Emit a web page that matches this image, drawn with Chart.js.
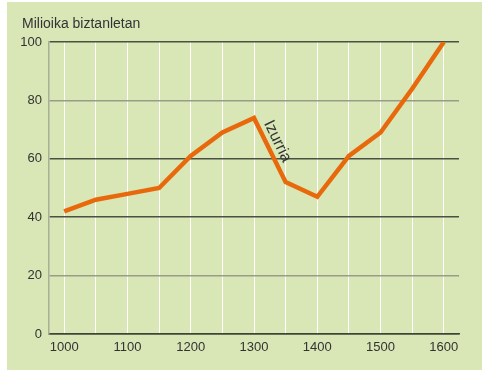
<!DOCTYPE html>
<html>
<head>
<meta charset="utf-8">
<script src="https://cdn.jsdelivr.net/npm/chart.js@4"></script>
<style>
  body { margin: 0; background: #fff; }
  #wrap { position: absolute; left: 7px; top: 2px; width: 475px; height: 368px; background: #d9e6b6; }
</style>
</head>
<body>
<div id="wrap"><canvas id="chart"></canvas></div>
<script>
var years = [1000, 1050, 1100, 1150, 1200, 1250, 1300, 1350, 1400, 1450, 1500, 1550, 1600];
var population = [42, 46, 48, 50, 61, 69, 74, 52, 47, 61, 69, 84, 100];
var yTicks = [0, 20, 40, 60, 80, 100];
var title = "Milioika biztanletan";
var plagueLabel = "Izurria";

var font = { family: "'Liberation Sans', Arial, sans-serif", size: 13 };

var textPlugin = {
  id: "texts",
  afterDatasetsDraw: function(chart) {
    var ctx = chart.ctx;
    ctx.save();
    ctx.fillStyle = "#333";
    ctx.font = "14px 'Liberation Sans', Arial, sans-serif";
    ctx.textBaseline = "middle";
    ctx.fillText(title, 15, 22);
    var x = chart.scales.x.getPixelForValue(1337);
    var y = chart.scales.y.getPixelForValue(66);
    ctx.translate(x, y);
    ctx.rotate(64 * Math.PI / 180);
    ctx.textAlign = "center";
    ctx.font = "16px 'Liberation Sans', Arial, sans-serif";
    ctx.fillText(plagueLabel, 0, 0);
    ctx.restore();
  }
};

var ctx = document.getElementById("chart").getContext("2d");
var chart = new Chart(ctx, {
  type: "line",
  data: {
    datasets: [{
      data: years.map(function(y, i) { return { x: y, y: population[i] }; }),
      borderColor: "#e8690c",
      borderWidth: 4.5,
      pointRadius: 0,
      tension: 0,
      fill: false
    }]
  },
  options: {
    responsive: true,
    maintainAspectRatio: false,
    animation: false,
    layout: { padding: { left: 0, top: 40, right: 23, bottom: 0 } },
    plugins: { legend: { display: false }, tooltip: { enabled: false } },
    scales: {
      x: {
        type: "linear",
        min: 976,
        max: 1624,
        afterBuildTicks: function(scale) {
          scale.ticks = years.map(function(v) { return { value: v }; });
        },
        afterFit: function(scale) { scale.height = 36; },
        grid: {
          drawTicks: false,
          color: function(c) { return (c.tick && c.tick.value >= 1000) ? "#ffffff" : "rgba(0,0,0,0)"; },
          lineWidth: 1
        },
        border: { color: "#3e4436", width: 1.5 },
        ticks: {
          autoSkip: false,
          maxRotation: 0,
          padding: 6,
          color: "#333",
          font: font,
          callback: function(v) { return v % 100 === 0 ? String(v) : ""; }
        }
      },
      y: {
        min: 0,
        max: 100,
        afterBuildTicks: function(scale) {
          scale.ticks = yTicks.map(function(v) { return { value: v }; });
        },
        afterFit: function(scale) { scale.width = 42; },
        grid: {
          drawTicks: false,
          color: function(c) {
            var v = c.tick ? c.tick.value : 0;
            return (v === 80 || v === 20) ? "#999d88" : "#4b5142";
          },
          lineWidth: 1.5
        },
        border: { color: "#a9ae98", width: 1.5 },
        ticks: {
          padding: 7,
          color: "#333",
          font: font
        }
      }
    }
  },
  plugins: [textPlugin]
});
</script>
</body>
</html>
